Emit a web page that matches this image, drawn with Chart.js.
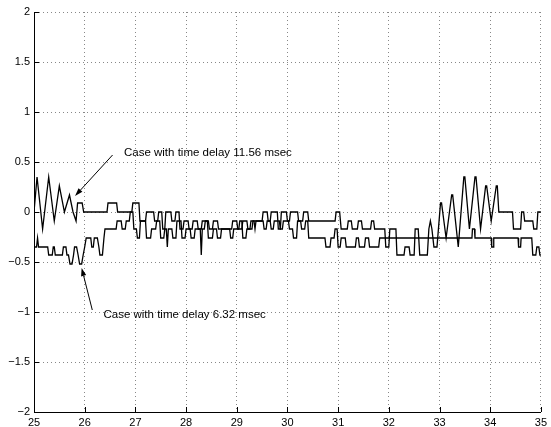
<!DOCTYPE html>
<html>
<head>
<meta charset="utf-8">
<script src="https://cdn.jsdelivr.net/npm/chart.js@4/dist/chart.umd.min.js"></script>
<style>
  html, body { margin: 0; padding: 0; background: #fff; }
  #wrap { width: 551px; height: 427px; }
</style>
</head>
<body>
<div id="wrap"><canvas id="plot" width="551" height="427"></canvas></div>
<script>
// Response with time delay 11.56 msec: vertex times (s) and values
const timeA = [25.00,25.06,25.17,25.29,25.40,25.50,25.60,25.70,25.77,25.83,25.86,25.95,25.98,26.44,26.46,26.63,26.65,26.93,26.95,27.07,
  27.09,27.20,27.22,27.36,27.38,27.44,27.46,27.52,27.54,27.58,27.60,27.70,27.72,27.78,27.80,27.86,27.88,27.94,27.96,28.04,
  28.06,28.12,28.14,28.22,28.24,28.30,28.32,28.44,28.46,28.52,28.54,28.62,28.64,28.90,28.92,29.00,29.02,29.10,29.12,29.20,
  29.22,29.30,29.32,29.50,29.52,29.60,29.62,29.66,29.68,29.80,29.82,29.86,29.88,29.98,30.00,30.04,30.06,30.20,30.22,30.30,
  30.32,30.40,30.42,30.94,30.96,31.03,31.06,31.18,31.20,31.26,31.28,31.38,31.40,31.46,31.48,31.64,31.66,31.70,31.72,31.92,
  31.94,32.00,32.02,32.14,32.16,32.30,32.32,32.40,32.42,32.50,32.52,32.58,32.61,32.76,32.79,32.82,32.85,32.89,32.95,33.02,
  33.04,33.13,33.24,33.26,33.37,33.48,33.50,33.59,33.70,33.72,33.81,33.91,33.93,34.02,34.12,34.14,34.17,34.44,34.46,34.60,
  34.62,34.66,34.68,34.84,34.86,34.92,34.94,35.00];
const valueA = [0,0.35,-0.17,0.35,-0.09,0.26,0,0.17,0,-0.09,0.09,0.09,0,0,0.09,0.09,0,0,0.09,0.09,
  -0.09,-0.09,0,0,-0.09,-0.09,0,0,-0.17,-0.17,0,0,-0.09,-0.09,0,0,-0.17,-0.17,-0.09,-0.09,
  -0.17,-0.17,-0.09,-0.09,-0.17,-0.17,-0.09,-0.09,-0.17,-0.17,-0.09,-0.09,-0.17,-0.17,-0.09,-0.09,-0.17,-0.17,-0.09,-0.09,
  -0.17,-0.17,-0.09,-0.09,0,0,-0.09,-0.09,0,0,-0.17,-0.17,0,0,-0.09,-0.09,0,0,-0.09,-0.09,
  0,0,-0.09,-0.09,0,0,-0.17,-0.17,-0.09,-0.09,-0.17,-0.17,-0.09,-0.09,-0.17,-0.17,-0.09,-0.09,-0.17,-0.17,
  -0.35,-0.35,-0.17,-0.17,-0.43,-0.43,-0.35,-0.35,-0.43,-0.43,-0.17,-0.17,-0.43,-0.43,-0.17,-0.09,-0.17,-0.35,-0.35,0.09,
  0.09,-0.26,0.17,0.17,-0.35,0.35,0.35,-0.17,0.35,0.35,-0.17,0.26,0.26,-0.09,0.26,0.26,0,0,-0.17,-0.17,
  0,0,-0.09,-0.09,-0.17,-0.17,0,0];

// Response with time delay 6.32 msec: vertex times (s) and values
const timeB = [25.00,25.05,25.07,25.09,25.27,25.29,25.36,25.38,25.40,25.42,25.56,25.58,25.63,25.65,25.68,25.71,25.75,25.78,25.80,25.84,
  25.87,25.90,25.94,25.97,26.00,26.03,26.12,26.14,26.17,26.19,26.25,26.28,26.30,26.35,26.38,26.40,26.62,26.64,26.72,26.74,
  26.80,26.82,26.88,26.90,26.95,26.97,27.02,27.04,27.08,27.10,27.20,27.22,27.30,27.32,27.40,27.42,27.48,27.50,27.56,27.58,
  27.61,27.63,27.65,27.72,27.74,27.80,27.82,27.90,27.92,27.98,28.00,28.08,28.10,28.16,28.18,28.28,28.30,28.32,28.36,28.38,
  28.42,28.44,28.52,28.54,28.60,28.62,28.68,28.70,28.86,28.88,28.92,28.94,29.04,29.06,29.10,29.12,29.18,29.20,29.26,29.28,
  29.34,29.36,29.38,29.52,29.54,29.58,29.60,29.66,29.68,29.72,29.74,29.84,29.86,29.90,29.92,30.02,30.04,30.10,30.12,30.18,
  30.20,30.26,30.28,30.34,30.36,30.40,30.42,30.74,30.76,30.84,30.86,30.92,30.94,30.98,31.00,31.04,31.06,31.14,31.16,31.34,
  31.36,31.40,31.42,31.52,31.54,31.60,31.62,31.80,31.82,33.64,33.65,33.69,33.70,34.02,34.03,34.06,34.07,34.55,34.56,34.60,
  34.61,34.82,34.84,34.90,34.92,34.96,34.98,35.00];
const valueB = [-0.35,-0.35,-0.26,-0.35,-0.35,-0.43,-0.43,-0.35,-0.35,-0.43,-0.43,-0.35,-0.35,-0.43,-0.43,-0.52,-0.52,-0.43,-0.35,-0.35,
  -0.43,-0.52,-0.52,-0.43,-0.35,-0.26,-0.26,-0.35,-0.35,-0.26,-0.26,-0.35,-0.43,-0.43,-0.26,-0.17,-0.17,-0.09,-0.09,-0.17,
  -0.17,-0.09,-0.09,0,0,-0.17,-0.17,-0.26,-0.26,-0.09,-0.09,-0.26,-0.26,-0.17,-0.17,-0.09,-0.09,-0.26,-0.26,-0.17,
  -0.17,-0.35,-0.17,-0.17,-0.26,-0.26,-0.09,-0.09,-0.26,-0.26,-0.17,-0.17,-0.26,-0.26,-0.17,-0.17,-0.43,-0.17,-0.17,-0.09,
  -0.09,-0.26,-0.26,-0.17,-0.17,-0.26,-0.26,-0.17,-0.17,-0.26,-0.26,-0.17,-0.17,-0.09,-0.09,-0.26,-0.26,-0.17,-0.17,-0.09,
  -0.09,-0.17,-0.09,-0.09,-0.17,-0.17,-0.09,-0.09,-0.17,-0.17,-0.09,-0.09,-0.17,-0.17,-0.09,-0.09,-0.17,-0.17,-0.26,-0.26,
  -0.09,-0.09,-0.17,-0.17,-0.09,-0.09,-0.26,-0.26,-0.35,-0.35,-0.26,-0.26,-0.17,-0.17,-0.35,-0.35,-0.26,-0.26,-0.35,-0.35,
  -0.26,-0.26,-0.35,-0.35,-0.26,-0.26,-0.35,-0.35,-0.26,-0.26,-0.17,-0.17,-0.26,-0.26,-0.35,-0.35,-0.26,-0.26,-0.35,-0.35,
  -0.26,-0.26,-0.43,-0.43,-0.35,-0.35,-0.43,-0.43];

// Axis ticks and their labels
const xTicks = [25, 26, 27, 28, 29, 30, 31, 32, 33, 34, 35];
const xTickLabels = ['25', '26', '27', '28', '29', '30', '31', '32', '33', '34', '35'];
const yTicks = [-2, -1.5, -1, -0.5, 0, 0.5, 1, 1.5, 2];
const yTickLabels = ['\u22122', '\u22121.5', '\u22121', '\u22120.5', '0', '0.5', '1', '1.5', '2'];

// Callout texts
const noteTexts = ['Case with time delay 11.56 msec', 'Case with time delay 6.32 msec'];

const FONT = "'Liberation Sans', Arial, Helvetica, sans-serif";

function toPoints(ts, vs) {
  return ts.map((t, i) => ({ x: t, y: vs[i] }));
}

// Callout placement in data coordinates
const notes = [
  { text: noteTexts[0], at: [26.775, 0.59], tail: [26.55, 0.57], tip: [25.81, 0.16] },
  { text: noteTexts[1], at: [26.37, -1.03], tail: [26.15, -0.98], tip: [25.94, -0.56] }
];

const frameMarks = {
  id: 'frameMarks',
  afterDraw(chart) {
    const { ctx, chartArea: a, scales: { x, y } } = chart;
    ctx.save();
    ctx.strokeStyle = '#000';
    ctx.lineWidth = 1;
    ctx.beginPath();
    xTicks.forEach(v => {
      const px = Math.round(x.getPixelForValue(v)) + 0.5;
      ctx.moveTo(px, a.bottom);
      ctx.lineTo(px, a.bottom - 5);
    });
    yTicks.forEach(v => {
      const py = Math.round(y.getPixelForValue(v)) + 0.5;
      ctx.moveTo(a.left, py);
      ctx.lineTo(a.left + 5, py);
    });
    ctx.stroke();

    // callouts with arrows
    ctx.fillStyle = '#000';
    ctx.font = '11.5px ' + FONT;
    ctx.textBaseline = 'middle';
    ctx.textAlign = 'left';
    notes.forEach(n => {
      ctx.fillText(n.text, x.getPixelForValue(n.at[0]), y.getPixelForValue(n.at[1]));
      const x0 = x.getPixelForValue(n.tail[0]), y0 = y.getPixelForValue(n.tail[1]);
      const x1 = x.getPixelForValue(n.tip[0]), y1 = y.getPixelForValue(n.tip[1]);
      const ang = Math.atan2(y1 - y0, x1 - x0);
      const len = 8, half = 2.6;
      const bx = x1 - len * Math.cos(ang), by = y1 - len * Math.sin(ang);
      ctx.beginPath();
      ctx.moveTo(x0, y0);
      ctx.lineTo(bx, by);
      ctx.stroke();
      ctx.beginPath();
      ctx.moveTo(x1, y1);
      ctx.lineTo(bx - half * Math.sin(ang), by + half * Math.cos(ang));
      ctx.lineTo(bx + half * Math.sin(ang), by - half * Math.cos(ang));
      ctx.closePath();
      ctx.fill();
    });
    ctx.restore();
  }
};

Chart.defaults.color = '#000';
Chart.defaults.font.family = FONT;

new Chart(document.getElementById('plot'), {
  type: 'scatter',
  data: {
    datasets: [
      { label: noteTexts[0], data: toPoints(timeA, valueA), showLine: true, borderColor: '#000',
        borderWidth: 1.3, pointRadius: 0, tension: 0, fill: false },
      { label: noteTexts[1], data: toPoints(timeB, valueB), showLine: true, borderColor: '#000',
        borderWidth: 1.3, pointRadius: 0, tension: 0, fill: false }
    ]
  },
  options: {
    responsive: false,
    animation: false,
    devicePixelRatio: 1,
    layout: { autoPadding: false, padding: { top: 12, right: 10, left: 0, bottom: 0 } },
    plugins: { legend: { display: false }, tooltip: { enabled: false } },
    scales: {
      x: {
        type: 'linear', min: 25, max: 35,
        afterBuildTicks: s => { s.ticks = xTicks.map(v => ({ value: v })); },
        afterFit: s => { s.height = 15; },
        ticks: { font: { size: 11 }, padding: 4, maxRotation: 0, autoSkip: false,
          callback: v => xTickLabels[xTicks.indexOf(v)] },
        grid: { color: '#888', lineWidth: 1, drawTicks: false },
        border: { display: true, color: '#000', width: 1, dash: [1, 3] }
      },
      y: {
        type: 'linear', min: -2, max: 2,
        afterBuildTicks: s => { s.ticks = yTicks.map(v => ({ value: v })); },
        afterFit: s => { s.width = 34; },
        ticks: { font: { size: 11 }, padding: 4, autoSkip: false,
          callback: v => yTickLabels[yTicks.indexOf(v)] },
        grid: { color: '#888', lineWidth: 1, drawTicks: false },
        border: { display: true, color: '#000', width: 1, dash: [1, 3] }
      }
    }
  },
  plugins: [frameMarks]
});
</script>
</body>
</html>
